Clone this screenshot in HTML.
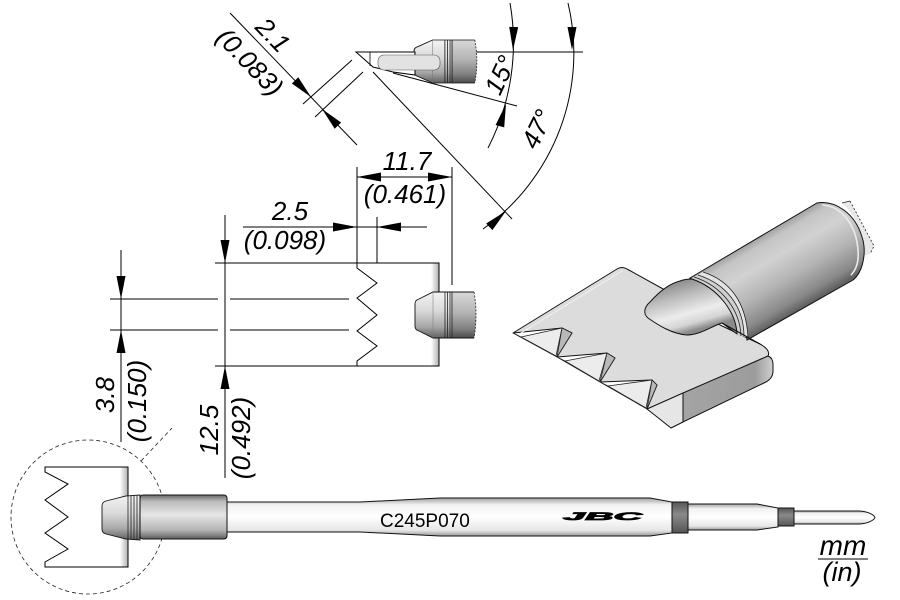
<!DOCTYPE html>
<html><head><meta charset="utf-8"><style>
html,body{margin:0;padding:0;background:#fff;}
svg{display:block;}
text{font-family:"Liberation Sans",Arial,sans-serif;fill:#000;}
</style></head><body>
<svg width="900" height="600" viewBox="0 0 900 600" xmlns="http://www.w3.org/2000/svg">
<defs>
<linearGradient id="gc" x1="0" y1="0" x2="0" y2="1">
<stop offset="0" stop-color="#f4f4f4"/><stop offset="0.4" stop-color="#dadada"/><stop offset="0.75" stop-color="#a8a8a8"/><stop offset="1" stop-color="#606060"/>
</linearGradient>
<linearGradient id="gc2" x1="0" y1="0" x2="0" y2="1">
<stop offset="0" stop-color="#d8d8d8"/><stop offset="0.45" stop-color="#b4b4b4"/><stop offset="0.8" stop-color="#808080"/><stop offset="1" stop-color="#4a4a4a"/>
</linearGradient>
<linearGradient id="gsl" x1="0" y1="0" x2="0" y2="1">
<stop offset="0" stop-color="#6a6a6a"/><stop offset="0.15" stop-color="#bcbcbc"/><stop offset="0.45" stop-color="#e6e6e6"/><stop offset="0.8" stop-color="#b4b4b4"/><stop offset="1" stop-color="#5e5e5e"/>
</linearGradient>
<linearGradient id="gsh" x1="0" y1="0" x2="0" y2="1">
<stop offset="0" stop-color="#a0a0a0"/><stop offset="0.18" stop-color="#f2f2f2"/><stop offset="0.5" stop-color="#ffffff"/><stop offset="0.85" stop-color="#e6e6e6"/><stop offset="1" stop-color="#9a9a9a"/>
</linearGradient>
<linearGradient id="gdb" x1="0" y1="0" x2="0" y2="1">
<stop offset="0" stop-color="#555"/><stop offset="0.4" stop-color="#8a8a8a"/><stop offset="1" stop-color="#555"/>
</linearGradient>
<linearGradient id="gedge" x1="0" y1="0" x2="1" y2="0">
<stop offset="0" stop-color="#ffffff"/><stop offset="1" stop-color="#b0b0b0"/>
</linearGradient>
<linearGradient id="gcyl" gradientUnits="userSpaceOnUse" x1="757" y1="240" x2="798" y2="310">
<stop offset="0" stop-color="#a8a8a8"/><stop offset="0.08" stop-color="#c4c4c4"/><stop offset="0.3" stop-color="#d2d2d2"/><stop offset="0.6" stop-color="#b4b4b4"/><stop offset="0.88" stop-color="#888888"/><stop offset="1" stop-color="#606060"/>
</linearGradient>
<linearGradient id="gcone" gradientUnits="userSpaceOnUse" x1="668" y1="284" x2="682" y2="334">
<stop offset="0" stop-color="#8c8c8c"/><stop offset="0.3" stop-color="#bdbdbd"/><stop offset="0.65" stop-color="#ececec"/><stop offset="0.85" stop-color="#d4d4d4"/><stop offset="1" stop-color="#8a8a8a"/>
</linearGradient>
<linearGradient id="gface" gradientUnits="userSpaceOnUse" x1="683" y1="0" x2="773" y2="0">
<stop offset="0" stop-color="#a4a4a4"/><stop offset="0.8" stop-color="#9c9c9c"/><stop offset="1" stop-color="#cfcfcf"/>
</linearGradient>
<g id="conn">
 <path d="M0,12 Q0,8 4,7 L18,0 L37,0 L37,46 L18,46 L4,39 Q0,38 0,34 Z" fill="url(#gc)" stroke="#111" stroke-width="0.9"/>
 <path d="M37,0 L59,0 Q63,23 59,46 L37,46 Z" fill="url(#gc2)"/>
 <path d="M37,0 L59,0 M37,46 L59,46" stroke="#111" stroke-width="0.9"/>
 <path d="M59,0 Q63,23 59,46" stroke="#222" stroke-width="0.8" stroke-dasharray="2 1.5" fill="none"/>
 <line x1="18" y1="0" x2="18" y2="46" stroke="#777" stroke-width="0.5"/>
 <path d="M30,0 V46 M32.5,0 V46 M35,0 V46 M37,0 V46" stroke="#222" stroke-width="0.8"/>
</g>
</defs>

<!-- ===== TOP SIDE VIEW ===== -->
<g stroke="#000" stroke-width="1" fill="none">
 <line x1="415" y1="52" x2="583" y2="52"/>
 <line x1="393" y1="73" x2="517" y2="106"/>
 <line x1="373" y1="72" x2="512" y2="219"/>
 <path d="M510,3 A230 230 0 0 1 488,148"/>
 <path d="M568,3 A216 216 0 0 1 483,229"/>
 <line x1="230" y1="13" x2="357" y2="145"/>
 <line x1="352" y1="60" x2="303" y2="104"/>
 <line x1="363" y1="72" x2="315" y2="117"/>
</g>
<use href="#conn" transform="translate(414,40) scale(1.03,0.935)"/>
<path d="M356,52 L415,52 L415,75 L393,72 L373,67 Z" fill="#fff" stroke="#000" stroke-width="1"/>
<line x1="370" y1="52" x2="370" y2="66" stroke="#000" stroke-width="0.8"/>
<rect x="378" y="55" width="62" height="15" rx="6" fill="#e2e2e2" stroke="#555" stroke-width="0.6"/>

<!-- arrows top -->
<g fill="#000">
 <polygon points="311,97 291.9,83.5 298.3,77.3"/>
 <polygon points="322,109 334.7,128.7 341.1,122.5"/>
 <polygon points="513,50 518.2,27.1 509.2,26.9"/>
 <polygon points="506,104 504.2,127.4 495.6,125"/>
 <polygon points="572,50 576.5,27 567.5,27"/>
 <polygon points="506,211 492.4,230.1 486.2,223.5"/>
</g>
<text x="273" y="35" transform="rotate(46 273 35)" text-anchor="middle" dominant-baseline="central" font-size="26" font-style="italic">2.1</text>
<text x="250" y="62" transform="rotate(46 250 62)" text-anchor="middle" dominant-baseline="central" font-size="26" font-style="italic">(0.083)</text>
<text x="500" y="75" transform="rotate(-65 500 75)" text-anchor="middle" dominant-baseline="central" font-size="26" font-style="italic">15°</text>
<text x="537" y="129" transform="rotate(-64 537 129)" text-anchor="middle" dominant-baseline="central" font-size="26" font-style="italic">47°</text>

<!-- ===== 11.7 / 2.5 dims ===== -->
<g stroke="#000" stroke-width="1">
 <line x1="357" y1="167" x2="357" y2="263"/>
 <line x1="452" y1="167" x2="452" y2="285"/>
 <line x1="357" y1="177" x2="452" y2="177"/>
 <line x1="243" y1="227" x2="427" y2="227"/>
 <line x1="377" y1="217" x2="377" y2="272"/>
</g>
<g fill="#000">
 <polygon points="357,177 381,172.5 381,181.5"/>
 <polygon points="452,177 428,172.5 428,181.5"/>
 <polygon points="357,227 333,222.5 333,231.5"/>
 <polygon points="377,227 401,222.5 401,231.5"/>
</g>
<text x="407" y="170" text-anchor="middle" font-size="26" font-style="italic">11.7</text>
<text x="405" y="203" text-anchor="middle" font-size="26" font-style="italic">(0.461)</text>
<text x="290" y="220" text-anchor="middle" font-size="26" font-style="italic">2.5</text>
<text x="285" y="249" text-anchor="middle" font-size="26" font-style="italic">(0.098)</text>

<!-- ===== FRONT VIEW ===== -->
<path d="M439,263 L357,263 L357,268 L377,283 L357,298 L377,315 L357,331 L377,346 L357,361 L357,366 L439,366 Z" fill="#fff" stroke="#000" stroke-width="1"/>
<rect x="431" y="263.5" width="8" height="102" fill="url(#gedge)"/>
<line x1="439" y1="263" x2="439" y2="366" stroke="#000"/>
<g stroke="#000" stroke-width="1">
 <line x1="215" y1="263" x2="357" y2="263"/>
 <line x1="215" y1="366" x2="357" y2="366"/>
 <line x1="110" y1="299" x2="218" y2="299"/>
 <line x1="230" y1="299" x2="349" y2="299"/>
 <line x1="110" y1="330" x2="218" y2="330"/>
 <line x1="230" y1="330" x2="349" y2="330"/>
 <line x1="225" y1="215" x2="225" y2="478"/>
 <line x1="121" y1="250" x2="121" y2="442"/>
</g>
<g fill="#000">
 <polygon points="121,299 116.5,276 125.5,276"/>
 <polygon points="121,330 116.5,353 125.5,353"/>
 <polygon points="225,263 220.5,240 229.5,240"/>
 <polygon points="225,366 220.5,389 229.5,389"/>
</g>
<use href="#conn" transform="translate(415,292)"/>
<text x="105" y="395" transform="rotate(-90 105 395)" text-anchor="middle" dominant-baseline="central" font-size="26" font-style="italic">3.8</text>
<text x="137" y="401" transform="rotate(-90 137 401)" text-anchor="middle" dominant-baseline="central" font-size="26" font-style="italic">(0.150)</text>
<text x="209" y="430" transform="rotate(-90 209 430)" text-anchor="middle" dominant-baseline="central" font-size="26" font-style="italic">12.5</text>
<text x="241" y="438" transform="rotate(-90 241 438)" text-anchor="middle" dominant-baseline="central" font-size="26" font-style="italic">(0.492)</text>

<!-- ===== 3D RENDER ===== -->
<path d="M513,333 L617,269 Q622,266 627,269 L665,290 L720,325 L760,344 Q771,350 768,356 L653,407 L647,409 L657,385 L652,380 L600,382 L615,358 L607,353 L557,357 L572,333 L562,328 Z" fill="#dcdcdc" stroke="#111" stroke-width="1" stroke-linejoin="round"/>
<line x1="516" y1="336" x2="622" y2="271" stroke="#f2f2f2" stroke-width="1"/>
<g stroke="#222" stroke-width="0.8" stroke-linejoin="round">
 <polygon points="513,333 521,337 556,356 557,357" fill="#c8c8c8"/>
 <polygon points="521,337 562,328 556,356" fill="#ececec"/>
 <polygon points="562,328 572,333 557,357" fill="#b8b8b8"/>
 <polygon points="557,357 565,361 599,381 600,382" fill="#c8c8c8"/>
 <polygon points="565,361 607,353 599,381" fill="#ececec"/>
 <polygon points="607,353 615,358 600,382" fill="#b8b8b8"/>
 <polygon points="600,382 608,386 646,408 647,409" fill="#c8c8c8"/>
 <polygon points="608,386 652,380 646,408" fill="#ececec"/>
 <polygon points="652,380 657,385 647,409" fill="#b8b8b8"/>
</g>
<path d="M683,393 L768,356 Q773,358 773,364 L773,371 Q773,378 766,382 L683,422 Z" fill="url(#gface)" stroke="#111" stroke-width="1"/>
<path d="M647,409 L683,393 L683,422 L671,428 Z" fill="#e6e6e6" stroke="#111" stroke-width="1" stroke-linejoin="round"/>
<!-- stub -->
<path d="M842,203 L850,201 L874,246 L870,254 L864,256 C864,236 856,215 842,203 Z" fill="#e8e8e8"/>
<path d="M842,203 L850,201" stroke="#222" stroke-width="0.8"/>
<path d="M850,201 L874,246 L870,254" stroke="#222" stroke-width="0.8" stroke-dasharray="2 2" fill="none"/>
<!-- cylinder -->
<path d="M690,278 L817,203 C835,200 855,213 862,237 C867,252 863,272 853,280 L747,340 C745,318 730,290 690,278 Z" fill="url(#gcyl)" stroke="#111" stroke-width="1"/>
<path d="M822,205 C842,206 856,225 858,250 C859,262 856,270 851,275" stroke="#eaeaea" stroke-width="1.6" fill="none"/>
<!-- ring -->
<path d="M690,279 L703,272 C728,280 746,300 748,337 L737,336 C736,312 718,288 690,279 Z" fill="#cfcfcf"/>
<path d="M698,275 L703,272 C728,280 746,300 748,337 L744,337 C742,304 726,284 698,275 Z" fill="#e4e4e4"/>
<g stroke="#222" stroke-width="0.8" fill="none">
 <path d="M694,277 C722,286 740,310 741,336"/>
 <path d="M698,275 C726,284 744,306 744,337"/>
 <path d="M703,272 C728,280 746,300 748,337"/>
</g>
<!-- cone -->
<path d="M648,318 C643,314 644,307 650,302 C658,293 668,284 680,281 C685,279 689,279 692,279 C718,288 736,312 737,334 L722,323 C712,326 700,335 687,335 C672,334 658,325 648,318 Z" fill="url(#gcone)" stroke="#111" stroke-width="1" stroke-linejoin="round"/>
<line x1="722" y1="323" x2="760" y2="344" stroke="#111" stroke-width="1"/>

<!-- ===== BOTTOM FULL VIEW ===== -->
<circle cx="88" cy="517" r="77" fill="none" stroke="#222" stroke-width="0.8" stroke-dasharray="4 3"/>
<line x1="141" y1="461" x2="172" y2="428" stroke="#222" stroke-width="0.8" stroke-dasharray="4 3"/>
<path d="M128,467 L45,467 L45,472 L68,484 L45,500 L68,517 L45,533 L68,549 L45,562 L45,567 L128,567 Z" fill="#fff" stroke="#000" stroke-width="1"/>
<rect x="120" y="467.5" width="8" height="99" fill="url(#gedge)"/>
<line x1="128" y1="467" x2="128" y2="567" stroke="#000"/>
<path d="M102,506 Q102,502 106,501 L126,496 L140,495 L140,540 L126,539 L106,534 Q102,533 102,529 Z" fill="url(#gc)" stroke="#111" stroke-width="0.9"/>
<path d="M128,496 V539 M131,495.5 V539.5 M134,495 V540 M137,495 V540" stroke="#222" stroke-width="0.8"/>
<rect x="140" y="495" width="87" height="44" rx="3" fill="url(#gsl)" stroke="#111" stroke-width="1"/>
<path d="M227,502 L360,502 L440,498 L650,498 L672,502 L672,533 L650,536 L440,536 L360,532 L227,532 Z" fill="url(#gsh)" stroke="#111" stroke-width="1"/>
<rect x="672" y="502" width="16" height="31" fill="url(#gdb)" stroke="#111" stroke-width="1"/>
<path d="M688,504 L757,504 L778,508 L778,527 L757,530 L688,530 Z" fill="url(#gsh)" stroke="#111" stroke-width="1"/>
<rect x="778" y="508" width="16" height="18" fill="url(#gdb)" stroke="#111" stroke-width="1"/>
<path d="M794,511 L858,511 C868,511 874,515 875,517.5 C874,520 868,524 858,524 L794,524 Z" fill="url(#gsh)" stroke="#111" stroke-width="1"/>
<text x="380" y="527" font-size="19">C245P070</text>
<text x="563" y="520" font-size="11" font-weight="bold" font-style="italic" stroke="#000" stroke-width="0.7" textLength="79" lengthAdjust="spacingAndGlyphs">JBC</text>

<text x="843" y="555" text-anchor="middle" font-size="28" font-style="italic">mm</text>
<line x1="818" y1="559" x2="868" y2="559" stroke="#000" stroke-width="1"/>
<text x="842" y="581" text-anchor="middle" font-size="27" font-style="italic">(in)</text>
</svg>
</body></html>
